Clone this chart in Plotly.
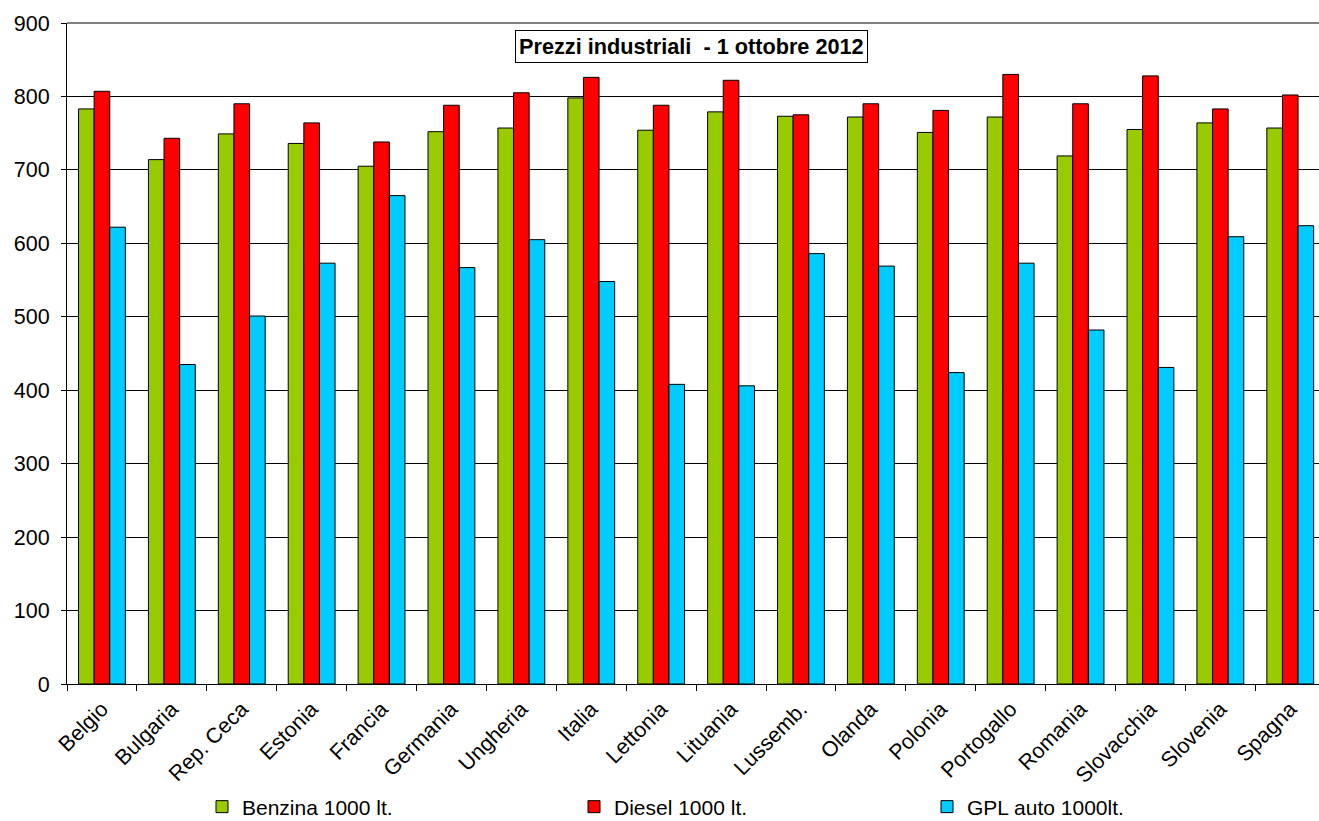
import plotly.graph_objects as go

countries = ["Belgio", "Bulgaria", "Rep. Ceca", "Estonia", "Francia", "Germania", "Ungheria",
             "Italia", "Lettonia", "Lituania", "Lussemb.", "Olanda", "Polonia", "Portogallo",
             "Romania", "Slovacchia", "Slovenia", "Spagna"]
benzina = [783, 714, 749, 736, 705, 752, 757, 798, 754, 779, 773, 772, 751, 772, 719, 755, 764, 757]
diesel = [807, 743, 790, 764, 738, 788, 805, 826, 788, 822, 775, 790, 781, 830, 790, 828, 783, 802]
gpl = [622, 435, 501, 573, 665, 567, 605, 548, 408, 406, 586, 569, 424, 573, 482, 431, 609, 624]

series_names = ["Benzina 1000 lt.", "Diesel 1000 lt.", "GPL auto 1000lt."]
colors = ["#99CC00", "#FF0000", "#00CCFF"]
legend_ids = ["legend", "legend2", "legend3"]
legend_px = [202, 574, 927]  # left edge of each legend item (pixels)

W, H = 1319, 821
ml, mt, mb = 67, 23, 137
cat_w = 69.9

fig = go.Figure()
for name, vals, col, lid in zip(series_names, [benzina, diesel, gpl], colors, legend_ids):
    fig.add_trace(go.Bar(x=countries, y=vals, name=name, legend=lid,
                         marker=dict(color=col, line=dict(color="black", width=1))))

legend_common = dict(orientation="h", xref="container", yref="container", yanchor="middle",
                     xanchor="left", y=1 - 807 / H, font=dict(size=21), bgcolor="rgba(0,0,0,0)",
                     borderwidth=0, itemwidth=30)

layout_legends = {}
for lid, px in zip(legend_ids, legend_px):
    layout_legends[lid] = dict(legend_common, x=px / W)

fig.update_layout(
    width=W, height=H,
    margin=dict(l=ml, r=0, t=mt, b=mb, autoexpand=False),
    paper_bgcolor="white", plot_bgcolor="white",
    barmode="group", bargap=0.33, bargroupgap=0,
    font=dict(family="Arial, Liberation Sans", color="black", size=21),
    showlegend=True,
    annotations=[dict(text="<b>Prezzi industriali  - 1 ottobre 2012</b>", xref="paper", yref="paper",
                      x=(691 - ml) / (W - ml), y=(H - mb - 46.5) / (H - mb - mt),
                      showarrow=False, font=dict(size=21.7, color="black"),
                      bordercolor="black", borderwidth=1, borderpad=3, bgcolor="white",
                      xanchor="center", yanchor="middle")],
    **layout_legends,
)

fig.update_xaxes(range=[-0.5, -0.5 + (W - ml) / cat_w], tickangle=-45, ticks="outside",
                 tickson="boundaries", ticklen=6, tickcolor="black", showline=True,
                 linecolor="black", linewidth=1, tickfont=dict(size=21.5), showgrid=False,
                 automargin=False, ticklabelstandoff=3)
fig.update_yaxes(range=[0, 900], dtick=100, ticks="outside", ticklen=5, tickcolor="black",
                 showline=True, linecolor="black", linewidth=1, gridcolor="black", gridwidth=1,
                 tickfont=dict(size=21.5), zeroline=False, automargin=False, ticklabelstandoff=7)
fig.add_shape(type="line", xref="paper", yref="paper", x0=0, x1=1, y0=1, y1=1,
              line=dict(color="#808080", width=2))

fig.write_html("out.html", config={"displayModeBar": False},
               post_script="document.body.style.margin='0';document.body.style.overflow='hidden';")
